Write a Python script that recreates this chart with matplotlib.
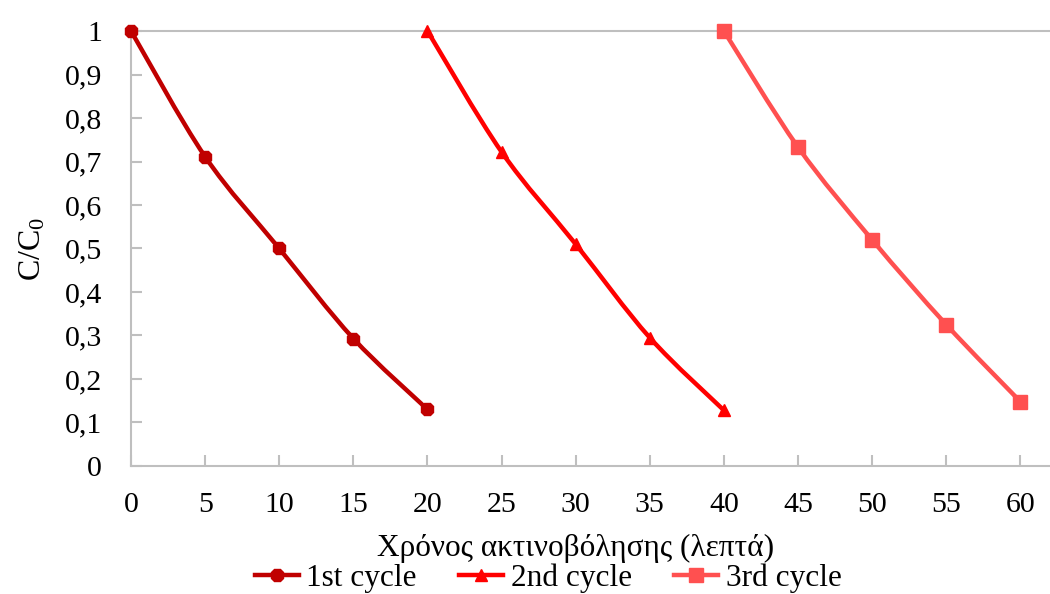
import numpy as np
import matplotlib
matplotlib.use("Agg")
import matplotlib.pyplot as plt
from matplotlib.path import Path
from matplotlib.patches import PathPatch
from matplotlib.lines import Line2D

plt.rcParams['font.family'] = ['Liberation Serif', 'DejaVu Serif']
plt.rcParams['mathtext.fontset'] = 'custom'
plt.rcParams['mathtext.rm'] = 'Liberation Serif'
plt.rcParams['mathtext.it'] = 'Liberation Serif'

# Photocatalytic degradation over three reuse cycles
t_cycle1 = [0, 5, 10, 15, 20]
c_cycle1 = [1.0, 0.711, 0.500, 0.293, 0.130]
t_cycle2 = [20, 25, 30, 35, 40]
c_cycle2 = [1.0, 0.722, 0.510, 0.295, 0.128]
t_cycle3 = [40, 45, 50, 55, 60]
c_cycle3 = [1.0, 0.733, 0.520, 0.325, 0.148]

labels = ['1st cycle', '2nd cycle', '3rd cycle']
colors = ['#C00000', '#FF0000', '#FF5050']
markers = ['8', '^', 's']
marker_sizes = [10, 9, 9.5]

x_ticks = list(range(0, 61, 5))
y_ticks = [round(0.1 * i, 1) for i in range(11)]
y_ticklabels = ['0' if v == 0 else ('1' if v == 1 else f'{v:.1f}'.replace('.', ',')) for v in y_ticks]


def smooth_path(xs, ys, tension=1 / 6):
    """Cubic Bezier segments through the points (Catmull-Rom style)."""
    pts = np.column_stack([xs, ys]).astype(float)
    n = len(pts)
    verts = [pts[0]]
    codes = [Path.MOVETO]
    for i in range(n - 1):
        p0 = pts[i - 1] if i > 0 else pts[i]
        p1 = pts[i]
        p2 = pts[i + 1]
        p3 = pts[i + 2] if i + 2 < n else pts[i + 1]
        c1 = p1 + (p2 - p0) * tension
        c2 = p2 - (p3 - p1) * tension
        verts += [c1, c2, p2]
        codes += [Path.CURVE4] * 3
    return Path(verts, codes)


fig = plt.figure(figsize=(10.5, 5.94), dpi=100)
ax = fig.add_axes([0.1248, 0.2155, 0.8752, 0.7323])

grey = '#BFBFBF'
ax.set_xlim(0, 62)
ax.set_ylim(0, 1)
ax.axhline(1.0, color=grey, lw=1.5, zorder=1, clip_on=False)

series = [(t_cycle1, c_cycle1), (t_cycle2, c_cycle2), (t_cycle3, c_cycle3)]
handles = []
for (xs, ys), lab, col, mk, ms in zip(series, labels, colors, markers, marker_sizes):
    patch = PathPatch(smooth_path(xs, ys), facecolor='none', edgecolor=col,
                      lw=3.2, capstyle='round', joinstyle='round', zorder=3)
    ax.add_patch(patch)
    ax.plot(xs, ys, linestyle='none', marker=mk, ms=ms, color=col,
            mec=col, zorder=4, clip_on=False)
    handles.append(Line2D([], [], color=col, lw=3.2, marker=mk, ms=ms, label=lab))

for side in ['top', 'right']:
    ax.spines[side].set_visible(False)
for side in ['left', 'bottom']:
    ax.spines[side].set_color(grey)
    ax.spines[side].set_linewidth(1.5)

ax.set_xticks(x_ticks)
ax.set_yticks(y_ticks)
ax.set_yticklabels(y_ticklabels)
ax.tick_params(axis='both', direction='in', length=8, width=1.5, color=grey,
               labelsize=21.5, labelcolor='black')
ax.tick_params(axis='x', pad=19)
ax.tick_params(axis='y', pad=21)

ax.set_xlabel('Χρόνος ακτινοβόλησης (λεπτά)', fontsize=22.5, labelpad=11)
ax.xaxis.label.set_x(0.4835)
ax.set_ylabel('C/C$_0$', fontsize=23, labelpad=12)

fig.legend(handles=handles, loc='lower center', bbox_to_anchor=(0.522, -0.045),
           ncol=3, frameon=False, fontsize=22.5, handlelength=1.4,
           handletextpad=0.25, columnspacing=1.35)

fig.savefig('out.png', dpi=100, facecolor='white')
